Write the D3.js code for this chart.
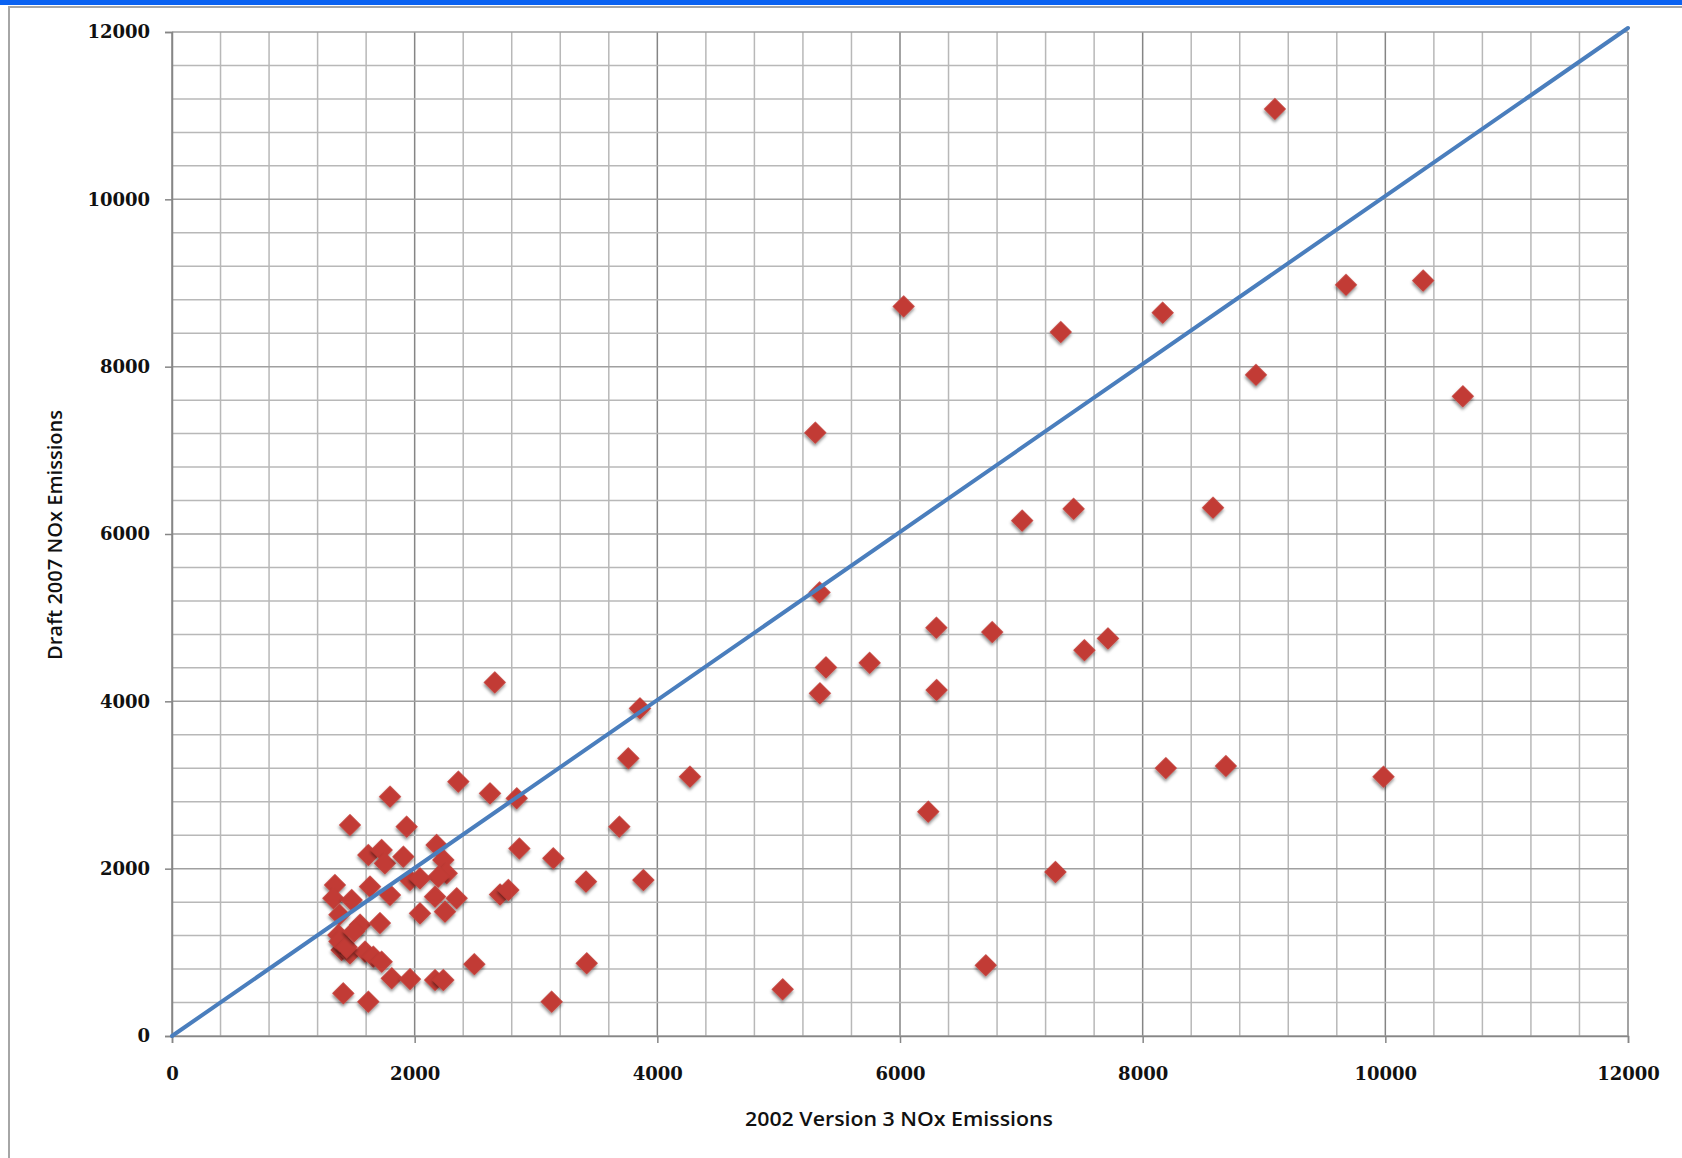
<!DOCTYPE html>
<html>
<head>
<meta charset="utf-8">
<script src="https://cdn.jsdelivr.net/npm/d3@7"></script>
<style>
  body { margin: 0; background: #fff; }
</style>
</head>
<body>
<script>
// 2002 Version 3 NOx emissions (x) against Draft 2007 NOx emissions (y)
const v3Emissions = [
  9090, 6030, 8165, 7325, 9676, 10312, 8934, 10639, 5302, 7007,
  7431, 8580, 5337, 6300, 6760, 7714, 7520, 5390, 5750, 2660,
  5340, 6302, 3857, 3761, 4269, 8191, 8686, 9985, 6233, 3687,
  7281, 2863, 3143, 3412, 3885, 2704, 2772, 2492, 3418, 3129,
  5033, 6707, 1797, 2360, 2621, 2841, 1467, 1934, 1618, 1728,
  1755, 1907, 2181, 2236, 2264, 2195, 1962, 2044, 1343, 1632,
  1797, 1330, 1481, 2168, 2346, 2250, 2044, 1380, 1550, 1714,
  1371, 1412, 1398, 1467, 1591, 1659, 1728, 1811, 1962, 2168,
  2236, 1412, 1618, 1380, 1440, 1500
];
const draft2007Emissions = [
  11080, 8720, 8645, 8414, 8978, 9029, 7902, 7646, 7211, 6160,
  6301, 6314, 5302, 4880, 4828, 4752, 4611, 4406, 4460, 4226,
  4096, 4135, 3916, 3319, 3099, 3202, 3227, 3099, 2681, 2502,
  1960, 2241, 2124, 1845, 1864, 1691, 1745, 858, 869, 410,
  558, 845, 2860, 3040, 2900, 2841, 2522, 2502, 2163, 2223,
  2064, 2143, 2283, 2104, 1944, 1904, 1864, 1884, 1805, 1785,
  1685, 1646, 1625, 1665, 1646, 1486, 1466, 1450, 1330, 1350,
  1207, 1108, 1028, 988, 1008, 948, 888, 690, 680, 669,
  669, 510, 410, 1130, 1060, 1250
];
const majorTicks = [0, 2000, 4000, 6000, 8000, 10000, 12000];
const axisMax = 12000;
const minorStep = 400;

const points = v3Emissions.map((x, i) => ({x: x, y: draft2007Emissions[i]}));

const width = 1682, height = 1158;
const plotLeft = 172, plotRight = 1628, plotTop = 32, plotBottom = 1036;

const svg = d3.select('body')
  .append('svg')
  .attr('width', width)
  .attr('height', height);

// window frame
svg.append('rect')
  .attr('x', 0).attr('y', 0)
  .attr('width', width).attr('height', 5)
  .attr('fill', '#0a62f2');
svg.append('path')
  .attr('d', `M9,${height} V7 H${width}`)
  .attr('fill', 'none')
  .attr('stroke', '#a6a6a6')
  .attr('stroke-width', 2);

const x = d3.scaleLinear().domain([0, axisMax]).range([plotLeft, plotRight]);
const y = d3.scaleLinear().domain([0, axisMax]).range([plotBottom, plotTop]);

const defs = svg.append('defs');
const shadow = defs.append('filter')
  .attr('id', 'shadow')
  .attr('x', '-50%').attr('y', '-50%')
  .attr('width', '200%').attr('height', '200%');
shadow.append('feDropShadow')
  .attr('dx', 1.5).attr('dy', 2)
  .attr('stdDeviation', 1.5)
  .attr('flood-color', '#000')
  .attr('flood-opacity', 0.45);

// grid
const minor = d3.range(0, axisMax + 1, minorStep);
svg.append('g')
  .selectAll('line')
  .data(minor)
  .enter()
  .append('line')
  .attr('x1', d => x(d)).attr('x2', d => x(d))
  .attr('y1', plotTop).attr('y2', plotBottom)
  .attr('stroke', d => d % 2000 === 0 ? '#858585' : '#b8b8b8')
  .attr('stroke-width', 1.5);
svg.append('g')
  .selectAll('line')
  .data(minor)
  .enter()
  .append('line')
  .attr('y1', d => y(d)).attr('y2', d => y(d))
  .attr('x1', plotLeft).attr('x2', plotRight)
  .attr('stroke', d => d % 2000 === 0 ? '#a0a0a0' : '#b8b8b8')
  .attr('stroke-width', 1.5);

const xAxis = d3.axisBottom(x)
  .tickValues(majorTicks)
  .tickFormat(d3.format('d'))
  .tickSize(7)
  .tickPadding(24);

const yAxis = d3.axisLeft(y)
  .tickValues(majorTicks)
  .tickFormat(d3.format('d'))
  .tickSize(7)
  .tickPadding(15);

const gx = svg.append('g')
  .attr('transform', 'translate(0,' + plotBottom + ')')
  .call(xAxis);

const gy = svg.append('g')
  .attr('transform', 'translate(' + plotLeft + ',0)')
  .call(yAxis);

[gx, gy].forEach(g => {
  g.select('.domain').attr('stroke', '#868686').attr('stroke-width', 1.5);
  g.selectAll('.tick line').attr('stroke', '#868686').attr('stroke-width', 1.5);
  g.selectAll('.tick text')
    .attr('fill', '#111')
    .style('font-family', '"DejaVu Serif", serif')
    .style('font-weight', 'bold')
    .style('font-size', '18px');
});

// points
svg.append('g')
  .selectAll('path')
  .data(points)
  .enter()
  .append('path')
  .attr('d', d3.symbol(d3.symbolSquare, 250))
  .attr('transform', d => `translate(${x(d.x)},${y(d.y)}) rotate(45)`)
  .attr('fill', '#c23b36')
  .attr('filter', 'url(#shadow)');

// 1:1 line
svg.append('line')
  .attr('x1', x(0)).attr('y1', y(0))
  .attr('x2', x(axisMax)).attr('y2', y(axisMax) - 4)
  .attr('stroke', '#4a7ebd')
  .attr('stroke-width', 4)
  .attr('stroke-linecap', 'round');

// axis titles
svg.append('text')
  .attr('x', 899)
  .attr('y', 1126)
  .attr('text-anchor', 'middle')
  .attr('textLength', 308)
  .attr('lengthAdjust', 'spacingAndGlyphs')
  .style('font-family', '"Open Sans", sans-serif')
  .style('font-weight', 600)
  .style('font-size', '20px')
  .attr('fill', '#111')
  .text('2002 Version 3 NOx Emissions');

svg.append('text')
  .attr('transform', 'translate(62,535) rotate(-90)')
  .attr('text-anchor', 'middle')
  .attr('textLength', 250)
  .attr('lengthAdjust', 'spacingAndGlyphs')
  .style('font-family', '"Open Sans", sans-serif')
  .style('font-weight', 600)
  .style('font-size', '20px')
  .attr('fill', '#111')
  .text('Draft 2007 NOx Emissions');
</script>
</body>
</html>
